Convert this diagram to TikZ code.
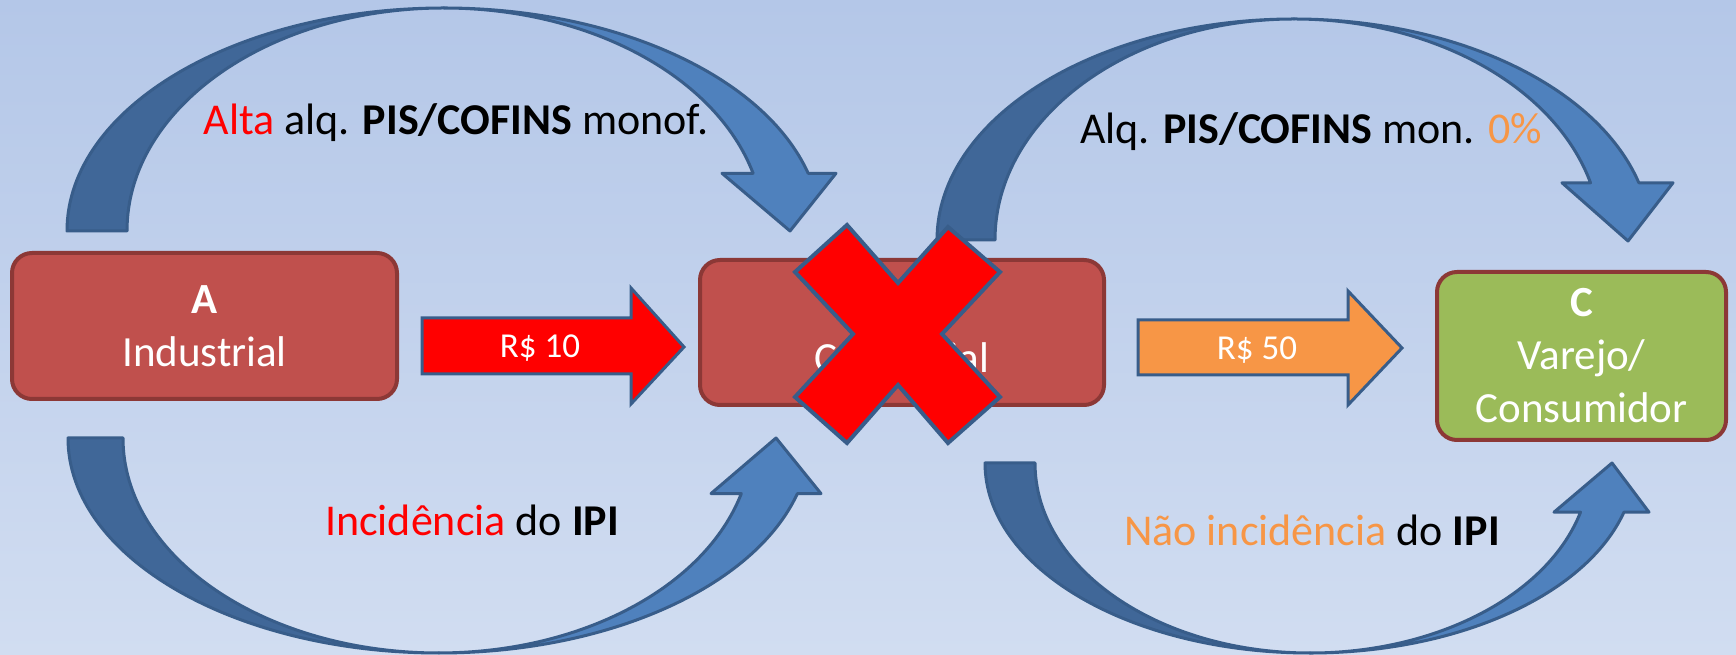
\documentclass[tikz,border=0pt]{standalone}
\usepackage{fontspec}
\setmainfont{Carlito}
\definecolor{bgtop}{RGB}{180,199,232}
\definecolor{bgbot}{RGB}{209,221,241}
\definecolor{boxred}{HTML}{C0504D}
\definecolor{boxborder}{HTML}{8C3836}
\definecolor{boxgreen}{HTML}{9BBB59}
\definecolor{arrowdark}{HTML}{406798}
\definecolor{arrowlight}{HTML}{4F81BD}
\definecolor{arrowline}{HTML}{385D8A}
\definecolor{orng}{HTML}{F79646}
\begin{document}
\begin{tikzpicture}[x=1pt,y=1pt,
  darkpart/.style={fill=arrowdark, draw=arrowline, line width=3pt, line join=round},
  lightpart/.style={fill=arrowlight, draw=arrowline, line width=3pt, line join=round},
  box/.style={draw=boxborder, line width=4pt, rounded corners=20pt, text=white, align=center, font=\fontsize{43}{53}\selectfont, inner sep=0pt},
  blockarrow/.style={draw=arrowline, line width=3pt, line join=miter},
  arrowtext/.style={text=white, font=\fontsize{35}{42}\selectfont, anchor=base},
  lbl/.style={font=\fontsize{44}{53}\selectfont, anchor=base}
]
\useasboundingbox (0,0) rectangle (1736,655);
\shade[top color=bgtop, bottom color=bgbot] (0,0) rectangle (1736,655);

% top-left curved arrow
\path[darkpart] (67,424) arc[start angle=180,end angle=90,x radius=377pt,y radius=223pt]
  arc[start angle=90,end angle=180,x radius=317pt,y radius=223pt] -- cycle;
\path[lightpart] (444,647) arc[start angle=90,end angle=15,x radius=377pt,y radius=223pt]
  -- (836,481.7) -- (790,424) -- (722,481.7) -- (753.1,481.7)
  arc[start angle=15,end angle=90,x radius=320pt,y radius=223pt] -- cycle;

% top-right curved arrow
\path[darkpart] (937,415) arc[start angle=180,end angle=90,x radius=357pt,y radius=221pt]
  arc[start angle=90,end angle=180,x radius=299pt,y radius=221pt] -- cycle;
\path[lightpart] (1294,636) arc[start angle=90,end angle=15,x radius=357pt,y radius=221pt]
  -- (1673,472.2) -- (1628,414) -- (1562,472.2) -- (1590.5,472.2)
  arc[start angle=15,end angle=90,x radius=307pt,y radius=221pt] -- cycle;

% bottom-left curved arrow
\path[darkpart] (68,217) arc[start angle=180,end angle=270,x radius=371pt,y radius=215pt]
  arc[start angle=270,end angle=180,x radius=316pt,y radius=215pt] -- cycle;
\path[lightpart] (439,2) arc[start angle=270,end angle=345,x radius=371pt,y radius=215pt]
  -- (821,161.4) -- (776,217) -- (711,161.4) -- (741.3,161.4)
  arc[start angle=345,end angle=270,x radius=313pt,y radius=215pt] -- cycle;

% bottom-right curved arrow
\path[darkpart] (985,192) arc[start angle=180,end angle=270,x radius=325pt,y radius=190pt]
  arc[start angle=270,end angle=180,x radius=275pt,y radius=190pt] -- cycle;
\path[lightpart] (1310,2) arc[start angle=270,end angle=345,x radius=325pt,y radius=190pt]
  -- (1649,142.8) -- (1612,192) -- (1554,142.8) -- (1580.5,142.8)
  arc[start angle=345,end angle=270,x radius=280pt,y radius=190pt] -- cycle;

% boxes
\node[box, fill=boxred, minimum width=385pt, minimum height=146pt] (A) at (204.5,329) {\textbf{A}\\Industrial};
\node[box, fill=boxred, minimum width=404pt, minimum height=145pt] (B) at (902,322.5) {\textbf{B}\\Comercial};
\node[box, fill=boxgreen, minimum width=289pt, minimum height=168pt] (C) at (1581.5,299) {\textbf{C}\\Varejo/\\Consumidor};

% block arrows
\path[blockarrow, fill=red] (422,281) -- (631,281) -- (631,251) -- (684,308) -- (631,367) -- (631,337) -- (422,337) -- cycle;
\node[arrowtext] (p10) at (540,297) {R\$ 10};
\path[blockarrow, fill=orng] (1138,280) -- (1348,280) -- (1348,250) -- (1402,307) -- (1348,364) -- (1348,335) -- (1138,335) -- cycle;
\node[arrowtext] (p50) at (1257,295) {R\$ 50};

% cross
\path[fill=red, draw=arrowline, line width=4pt, line join=miter]
  (847,430) -- (898,372) -- (948,428) -- (1000,383) -- (942,321) -- (1000,258)
  -- (948,212) -- (898,270) -- (847,212) -- (795,258) -- (853,321) -- (795,383) -- cycle;

% labels
\node[lbl] (l1) at (456,520) {\textcolor{red}{Alta} alq. \textbf{PIS/COFINS} monof.};
\node[lbl] (l2) at (1311,511) {Alq. \textbf{PIS/COFINS} mon. \textcolor{orng}{0\%}};
\node[lbl] (l3) at (472,119) {\textcolor{red}{Incidência} do \textbf{IPI}};
\node[lbl] (l4) at (1312,109) {\textcolor{orng}{Não incidência} do \textbf{IPI}};
\end{tikzpicture}
\end{document}
